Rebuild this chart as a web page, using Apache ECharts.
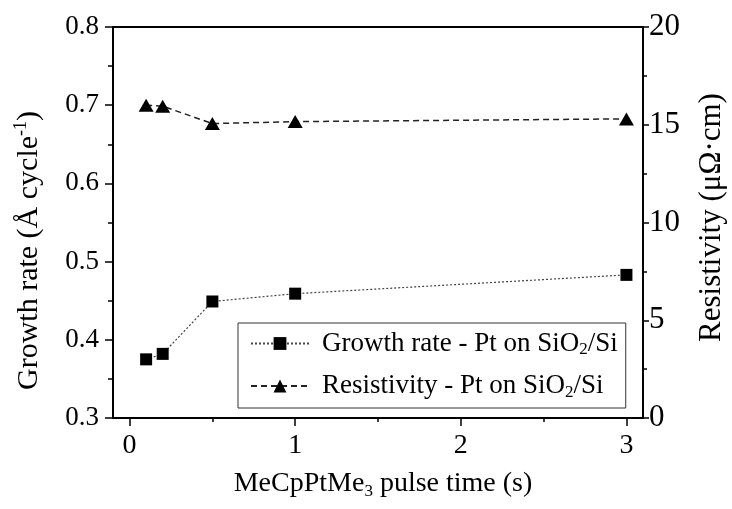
<!DOCTYPE html>
<html>
<head>
<meta charset="utf-8">
<script src="https://cdn.jsdelivr.net/npm/echarts@6/dist/echarts.min.js"></script>
<style>
  html, body { margin: 0; padding: 0; background: #fff; }
  #chart { width: 732px; height: 509px; }
</style>
</head>
<body>
<div id="chart"></div>
<script>
var pulseTime = [0.1, 0.2, 0.5, 1, 3];
var growthRate = [0.375, 0.382, 0.449, 0.459, 0.483];
var resistivity = [16.0, 15.95, 15.06, 15.16, 15.3];
var xLabels = [0, 1, 2, 3];
var xMinor = [0.5, 1.5, 2.5];

var serif = "'Liberation Serif', 'Times New Roman', serif";

function pairs(xs, ys) {
  return xs.map(function (x, i) { return [x, ys[i]]; });
}

var chart = echarts.init(document.getElementById("chart"));

var option = {
  backgroundColor: "#fff",
  animation: false,
  textStyle: { fontFamily: serif, color: "#000" },
  grid: { left: 113, right: 89, top: 27, bottom: 91, containLabel: false, outerBoundsMode: "none" },
  legend: {
    orient: "vertical",
    left: 238,
    top: 323,
    padding: [7, 8, 7, 12],
    borderColor: "#333",
    borderWidth: 1,
    itemWidth: 58,
    itemHeight: 16,
    itemGap: 14,
    data: ["growth", "resist"],
    formatter: function (name) {
      var label = name === "growth" ? "Growth rate" : "Resistivity";
      return "{b|" + label + " - Pt on SiO}{sub|2}{a|/Si}";
    },
    textStyle: {
      fontFamily: serif,
      color: "#000",
      rich: {
        a: { fontFamily: serif, fontSize: 27, lineHeight: 30, color: "#000" },
        b: { fontFamily: serif, fontSize: 27, lineHeight: 30, color: "#000", padding: [0, 0, 0, 8] },
        sub: { fontFamily: serif, fontSize: 17, lineHeight: 12, verticalAlign: "bottom", color: "#000" }
      }
    }
  },
  xAxis: [
    {
      type: "value",
      min: -0.1,
      max: 3.1,
      position: "bottom",
      name: "{a|MeCpPtMe}{sub|3}{a| pulse time (s)}",
      nameLocation: "middle",
      nameGap: 50,
      nameTextStyle: {
        padding: [0, 0, 0, 10],
        rich: {
          a: { fontFamily: serif, fontSize: 28, lineHeight: 32, color: "#000" },
          sub: { fontFamily: serif, fontSize: 17, lineHeight: 12, verticalAlign: "bottom", color: "#000" }
        }
      },
      axisLine: { show: true, onZero: false, lineStyle: { color: "#000", width: 2 } },
      axisTick: { show: true, inside: false, length: 8, customValues: xLabels, lineStyle: { color: "#000", width: 1.5 } },
      axisLabel: { customValues: xLabels, margin: 14, fontSize: 28, fontFamily: serif, color: "#000" },
      splitLine: { show: false }
    },
    {
      type: "value",
      min: -0.1,
      max: 3.1,
      position: "bottom",
      axisLine: { show: false },
      axisTick: { show: true, inside: false, length: 4, customValues: xMinor, lineStyle: { color: "#000", width: 1.5 } },
      axisLabel: { show: false },
      splitLine: { show: false }
    },
    {
      type: "value",
      min: -0.1,
      max: 3.1,
      position: "top",
      axisLine: { show: true, onZero: false, lineStyle: { color: "#000", width: 2 } },
      axisTick: { show: false },
      axisLabel: { show: false },
      splitLine: { show: false }
    }
  ],
  yAxis: [
    {
      type: "value",
      min: 0.3,
      max: 0.8,
      interval: 0.1,
      position: "left",
      name: "{a|Growth rate (Å cycle}{sup|-1}{a|)}",
      nameLocation: "middle",
      nameRotate: 90,
      nameGap: 67,
      nameTextStyle: {
        padding: [0, 56, 0, 0],
        rich: {
          a: { fontFamily: serif, fontSize: 30, lineHeight: 34, color: "#000" },
          sup: { fontFamily: serif, fontSize: 18, lineHeight: 16, verticalAlign: "top", color: "#000" }
        }
      },
      axisLine: { show: true, onZero: false, lineStyle: { color: "#000", width: 2 } },
      axisTick: { show: true, inside: false, length: 8, lineStyle: { color: "#000", width: 1.5 } },
      minorTick: { show: true, splitNumber: 2, length: 5, lineStyle: { color: "#000", width: 1.5 } },
      axisLabel: { margin: 14, fontSize: 27, fontFamily: serif, color: "#000", formatter: function (v) { return v.toFixed(1); } },
      splitLine: { show: false }
    },
    {
      type: "value",
      min: 0,
      max: 20,
      interval: 5,
      position: "right",
      name: "Resistivity (μΩ·cm)",
      nameLocation: "middle",
      nameRotate: 90,
      nameGap: 53,
      nameTextStyle: { fontFamily: serif, fontSize: 31, color: "#000", padding: [0, 0, 0, 10] },
      axisLine: { show: true, onZero: false, lineStyle: { color: "#000", width: 2 } },
      axisTick: { show: true, inside: false, length: 6, lineStyle: { color: "#000", width: 1.5 } },
      minorTick: { show: true, splitNumber: 2, length: 4, lineStyle: { color: "#000", width: 1.5 } },
      axisLabel: { margin: 6, fontSize: 31, fontFamily: serif, color: "#000" },
      splitLine: { show: false }
    }
  ],
  series: [
    {
      name: "growth",
      type: "line",
      xAxisIndex: 0,
      yAxisIndex: 0,
      data: pairs(pulseTime, growthRate),
      symbol: "rect",
      symbolSize: 12,
      itemStyle: { color: "#000" },
      lineStyle: { color: "#444", width: 1.2, type: [2, 2] }
    },
    {
      name: "resist",
      type: "line",
      xAxisIndex: 0,
      yAxisIndex: 1,
      data: pairs(pulseTime, resistivity),
      symbol: "triangle",
      symbolSize: [15, 13],
      itemStyle: { color: "#000" },
      lineStyle: { color: "#222", width: 1.5, type: [6, 4] }
    }
  ]
};

chart.setOption(option);
</script>
</body>
</html>
